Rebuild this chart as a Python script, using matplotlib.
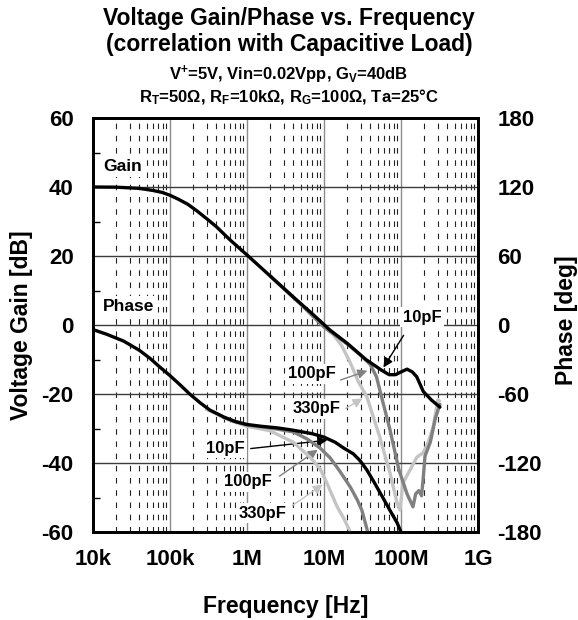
import matplotlib
matplotlib.use("Agg")
import matplotlib.pyplot as plt
from matplotlib.ticker import FixedLocator, MultipleLocator, LogLocator, NullFormatter

plt.rcParams["font.family"] = ["Liberation Sans", "DejaVu Sans"]
plt.rcParams["font.weight"] = "bold"
plt.rcParams["axes.unicode_minus"] = False
plt.rcParams["mathtext.fontset"] = "custom"
plt.rcParams["mathtext.rm"] = "Liberation Sans:bold"
plt.rcParams["mathtext.bf"] = "Liberation Sans:bold"
plt.rcParams["mathtext.it"] = "Liberation Sans:bold"

# x axis
freq_ticks = [1e4, 1e5, 1e6, 1e7, 1e8, 1e9]
freq_labels = ["10k", "100k", "1M", "10M", "100M", "1G"]

# gain curves [dB]
gain_f_10p = [1e4, 2e4, 4e4, 6e4, 8e4, 1e5, 1.3e5, 1.7e5, 2.2e5, 3e5, 4e5, 6e5, 1e6, 2e6,
              4e6, 7e6, 1.2e7, 2e7, 3.5e7, 5.5e7, 7e7, 8.5e7, 1e8, 1.2e8, 1.4e8, 1.6e8,
              1.95e8, 2.5e8, 3.2e8]
gain_10p = [40.0, 39.95, 39.6, 39.0, 38.4, 37.6, 36.4, 35.0, 33.2, 30.8, 28.5, 24.7, 20.3, 14.2,
            8.1, 3.3, -1.5, -5.3, -10.0, -13.0, -14.4, -14.4, -13.6, -12.8, -13.6, -15.0,
            -19.3, -21.8, -23.8]

gain_f_100p = [2e6, 5e6, 1e7, 2e7, 3e7, 4e7, 4.8e7, 5.6e7, 7.2e7, 9.4e7, 1.2e8, 1.43e8,
               1.55e8, 1.7e8, 1.85e8, 1.95e8, 2.05e8, 2.4e8, 2.8e8, 3.2e8]
gain_100p = [14.2, 6.0, -0.6, -5.5, -8.8, -11.5, -15.0, -20.9, -30.4, -42.0, -49.0, -52.7,
             -49.0, -48.0, -49.5, -44.0, -38.0, -34.0, -27.0, -23.0]

gain_f_330p = [2e6, 6e6, 1e7, 1.3e7, 1.7e7, 2.2e7, 2.8e7, 3.6e7, 5.3e7, 7.2e7, 8.9e7, 9.7e7,
               1.06e8, 1.31e8, 1.61e8, 1.93e8, 2.24e8, 2.61e8, 3.02e8, 3.15e8]
gain_330p = [14.2, 4.3, -0.6, -2.6, -6.0, -11.0, -16.5, -20.8, -32.5, -42.9, -51.6, -53.6,
             -45.8, -42.0, -38.3, -37.1, -34.2, -29.6, -21.7, -22.0]

# phase curves [deg]
phase_f_10p = [1e4, 1.5e4, 2.5e4, 4e4, 5.5e4, 7.5e4, 1e5, 1.4e5, 1.8e5, 2.5e5, 3.3e5, 5e5,
               7e5, 1e6, 1.5e6, 2.5e6, 4e6, 7e6, 1e7, 1.4e7, 1.8e7, 2.4e7, 2.9e7, 3.6e7,
               4.5e7, 5.8e7, 7.3e7, 8.9e7, 1e8]
phase_10p = [-4, -8, -14, -22, -29, -37, -44, -53, -60, -68, -74, -80,
             -84, -86.5, -88, -89.5, -91.5, -94.5, -97.5, -102, -107, -112, -117.5, -126,
             -137, -150, -162, -172, -180]

phase_f_100p = [5e5, 1e6, 2e6, 4e6, 6e6, 8.9e6, 1.2e7, 1.6e7, 2.2e7, 2.7e7, 3.1e7, 3.7e7]
phase_100p = [-80.5, -87, -89.5, -93, -99, -107, -115.5, -127, -141, -152, -161, -180]

phase_f_330p = [3e5, 6e5, 1e6, 2e6, 4e6, 6.6e6, 8.9e6, 1.1e7, 1.48e7, 1.8e7, 2.2e7]
phase_330p = [-73.5, -83, -88, -92, -102, -115, -125, -138, -158, -168, -180]

c10, c100, c330 = "black", "#808080", "#c4c4c4"

fig = plt.figure(figsize=(5.78, 6.2), dpi=100)
ax = fig.add_axes([93 / 578, 1 - 532 / 620, 385 / 578, 414 / 620])
ax2 = ax.twinx()

ax.plot(gain_f_330p, gain_330p, color=c330, lw=2.4, solid_capstyle="round")
ax.plot(gain_f_100p, gain_100p, color=c100, lw=2.4, solid_capstyle="round")
ax.plot(gain_f_10p, gain_10p, color=c10, lw=2.4, solid_capstyle="round")
ax2.plot(phase_f_330p, phase_330p, color=c330, lw=2.4)
ax2.plot(phase_f_100p, phase_100p, color=c100, lw=2.4)
ax2.plot(phase_f_10p, phase_10p, color=c10, lw=2.4)

ax.set_xscale("log")
ax.set_xlim(1e4, 1e9)
ax.set_ylim(-60, 60)
ax2.set_ylim(-180, 180)

ax.xaxis.set_major_locator(FixedLocator(freq_ticks))
ax.set_xticklabels(freq_labels)
ax.xaxis.set_minor_locator(LogLocator(base=10, subs=range(2, 10)))
ax.xaxis.set_minor_formatter(NullFormatter())
ax.yaxis.set_major_locator(MultipleLocator(20))
ax.yaxis.set_minor_locator(MultipleLocator(10))
ax2.yaxis.set_major_locator(MultipleLocator(60))

ax.grid(True, which="major", axis="x", color="#8c8c8c", lw=1)
ax.grid(True, which="minor", axis="x", color="#222222", lw=0.8, ls=(0, (5, 6)))
ax.grid(True, which="major", axis="y", color="#3c3c3c", lw=1)

ax.tick_params(axis="x", which="both", length=0, pad=12, labelsize=16)
ax.tick_params(axis="y", which="major", length=0, pad=14, labelsize=16)
ax.tick_params(axis="y", which="minor", direction="in", length=5, width=1)
ax2.tick_params(axis="y", length=0, pad=14, labelsize=16)

for sp in ax.spines.values():
    sp.set_linewidth(2)
for sp in ax2.spines.values():
    sp.set_linewidth(2)

ax.set_xlabel("Frequency [Hz]", fontsize=16.5, fontweight="bold", va="center")
ax.xaxis.set_label_coords(0.5, -0.179)
ax.set_ylabel("Voltage Gain [dB]", fontsize=16.5, fontweight="bold", va="center")
ax.yaxis.set_label_coords(-0.187, 0.5)
ax2.set_ylabel("Phase [deg]", fontsize=16.5, fontweight="bold", va="center", rotation=90)
ax2.yaxis.set_label_coords(1.231, 0.512)

fig.text(0.5, 1 - 19 / 620, "Voltage Gain/Phase vs. Frequency", ha="center", va="center",
         fontsize=16.5, fontweight="bold")
fig.text(0.5, 1 - 45 / 620, "(correlation with Capacitive Load)", ha="center", va="center",
         fontsize=16.5, fontweight="bold")
fig.text(0.5, 1 - 75 / 620, r"V$^{+}$=5V, Vin=0.02Vpp, G$_{V}$=40dB", ha="center", va="center",
         fontsize=12, fontweight="bold")
fig.text(0.5, 1 - 97 / 620, r"R$_{T}$=50Ω, R$_{F}$=10kΩ, R$_{G}$=100Ω, Ta=25°C", ha="center",
         va="center", fontsize=12, fontweight="bold")

box = dict(boxstyle="square,pad=0.15", fc="white", ec="none")
ax.text(1.35e4, 45.8, "Gain", fontsize=12.5, fontweight="bold", va="center", bbox=box)
ax.text(1.35e4, 5.5, "Phase", fontsize=12.5, fontweight="bold", va="center", bbox=box)


def label(x, y, s, tail, tip, color):
    ax.annotate("", xy=tip, xytext=tail,
                arrowprops=dict(arrowstyle="-|>", color=color, lw=1, mutation_scale=14))
    ax.text(x, y, s, fontsize=12, fontweight="bold", ha="center", va="center", bbox=box)


label(1.87e8, 2.3, "10pF", (1.13e8, -2.3), (5.66e7, -13.0), c10)
label(6.98e6, -14.2, "100pF", (1.52e7, -16.2), (3.95e7, -13.0), c100)
label(8.1e6, -24.3, "330pF", (1.77e7, -24.6), (3.4e7, -20.9), c330)
label(5.18e5, -35.7, "10pF", (1.03e6, -35.9), (1.2e7, -33.3), c10)
label(1.03e6, -45.5, "100pF", (2.46e6, -44.3), (8.87e6, -35.7), c100)
label(1.57e6, -54.5, "330pF", (3.61e6, -52.8), (1.03e7, -45.8), c330)

fig.savefig("out.png", dpi=100)
